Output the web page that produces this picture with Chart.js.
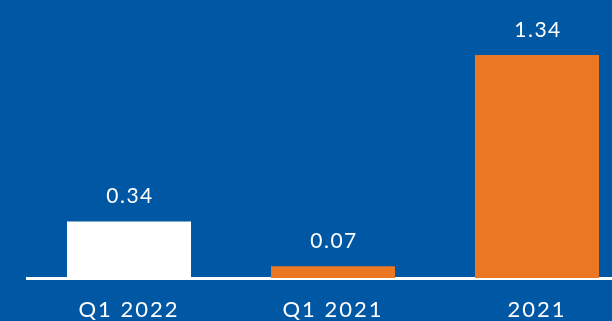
<!DOCTYPE html>
<html><head><meta charset="utf-8">
<script src="https://cdn.jsdelivr.net/npm/chart.js@4/dist/chart.umd.min.js"></script>
<style>
html,body{margin:0;padding:0;background:#0057A4;overflow:hidden;}
#wrap{width:612px;height:321px;overflow:hidden;position:relative;}
canvas{display:block;}
</style></head>
<body><div id="wrap"><canvas id="c" width="639" height="321"></canvas></div>
<script>
const categories = ["Q1 2022", "Q1 2021", "2021"];
const values = [0.34, 0.07, 1.34];
const valueLabels = ["0.34", "0.07", "1.34"];
const barColors = ["#FFFFFF", "#EC7723", "#EC7723"];

const FONT = "Lato, 'Open Sans', sans-serif";

const spacingPlugin = {
  id: 'spacing',
  beforeDraw(chart) { chart.ctx.letterSpacing = '2px'; }
};

const valuePlugin = {
  id: 'valueLabels',
  afterDatasetsDraw(chart) {
    const ctx = chart.ctx;
    const meta = chart.getDatasetMeta(0);
    ctx.save();
    ctx.letterSpacing = '1.5px';
    ctx.fillStyle = '#FFFFFF';
    ctx.font = '21px ' + FONT;
    ctx.textAlign = 'center';
    ctx.textBaseline = 'alphabetic';
    meta.data.forEach((bar, i) => {
      ctx.fillText(valueLabels[i], bar.x + 1, bar.y - 18);
    });
    ctx.restore();
  }
};

new Chart(document.getElementById('c'), {
  type: 'bar',
  data: {
    labels: categories,
    datasets: [{
      data: values,
      backgroundColor: barColors,
      borderWidth: 0,
      categoryPercentage: 1,
      barPercentage: 0.608
    }]
  },
  options: {
    responsive: false,
    animation: false,
    layout: { padding: { left: 27, right: 0, top: 0, bottom: 0 } },
    plugins: { legend: { display: false }, tooltip: { enabled: false } },
    scales: {
      y: {
        display: false,
        min: 0,
        max: 278 / 166.4
      },
      x: {
        grid: { display: false, drawTicks: false },
        border: { display: true, color: '#FFFFFF', width: 3 },
        ticks: { color: '#FFFFFF', font: { family: FONT, size: 22 }, padding: 19, maxRotation: 0 },
        afterFit(scale) { scale.height = 43; }
      }
    }
  },
  plugins: [spacingPlugin, valuePlugin]
});
</script></body></html>
